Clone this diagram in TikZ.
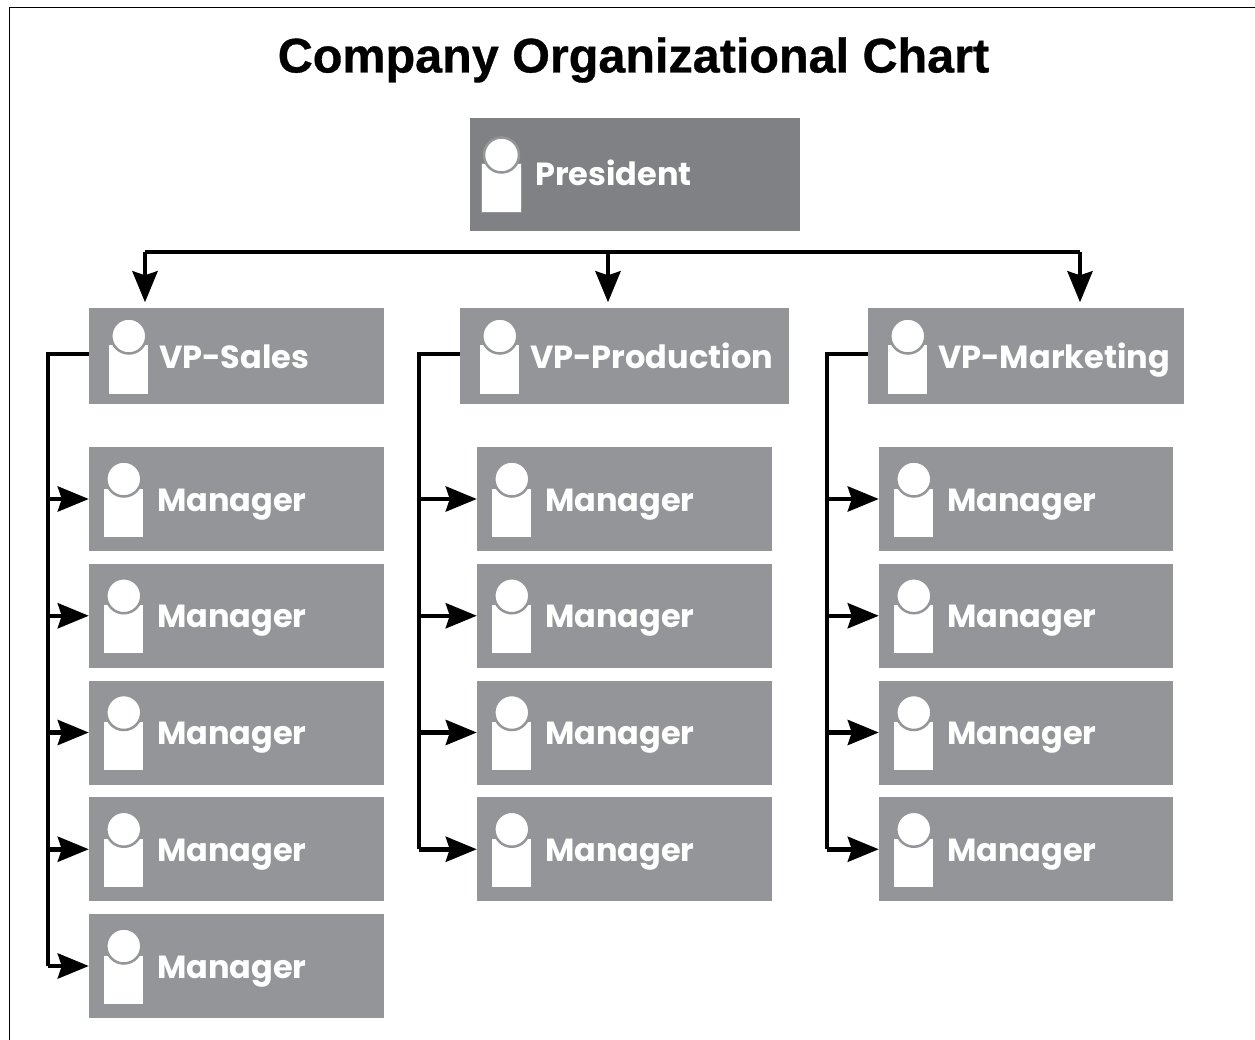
\documentclass[tikz,border=0pt]{standalone}
\usepackage{fontspec}
\usetikzlibrary{arrows.meta}
\setmainfont{Liberation Sans}[BoldFeatures={FakeBold=0.7}]
\newfontfamily\boxfont{Poppins}[FontFace={b}{n}{Font=Poppins Bold}]
\definecolor{darkbox}{HTML}{808184}
\definecolor{lightbox}{HTML}{939598}
\tikzset{
	person/.pic={
		\draw[fill=white,draw=lightbox,line width=1pt] (-20,9) rectangle (20,58);
		\draw[fill=white,draw=#1,line width=2.5pt] (0,0) circle (17.5pt);
	},
	orgbox/.style={fill=lightbox,minimum width=295pt,minimum height=104pt,inner sep=0pt},
	boxlabel/.style={anchor=base west,inner sep=0pt,text=white,font=\boxfont\bfseries\fontsize{32pt}{32pt}\selectfont},
	link/.style={line width=4.5pt,-{Stealth[length=31pt,width=25pt,inset=4pt]}},
	trunk/.style={line width=4.5pt,line join=miter}
}
\begin{document}
\begin{tikzpicture}[x=1pt,y=-1pt,node distance=116.75pt]
	\useasboundingbox (0,0) rectangle (1255,1040);
	\draw[line width=1.6pt] (9.5,1040) -- (9.5,7.5) -- (1255,7.5);
	\node[font=\bfseries\fontsize{48.5pt}{48.5pt}\selectfont] (title) at (633.5,60) {Company Organizational Chart};

	% top row
	\node[orgbox,fill=darkbox,minimum width=330pt,minimum height=113pt] (president) at (635,174.5) {};
	\node[orgbox,minimum height=96pt] (vpSales) at (236.5,356) {};
	\node[orgbox,minimum width=329pt,minimum height=96pt] (vpProd) at (624.5,356) {};
	\node[orgbox,minimum width=316pt,minimum height=96pt] (vpMark) at (1026,356) {};

	% managers
	\node[orgbox] (mS1) at (236.5,499) {};
	\node[orgbox,below of=mS1] (mS2) {};
	\node[orgbox,below of=mS2] (mS3) {};
	\node[orgbox,below of=mS3] (mS4) {};
	\node[orgbox,below of=mS4] (mS5) {};
	\node[orgbox] (mP1) at (624.5,499) {};
	\node[orgbox,below of=mP1] (mP2) {};
	\node[orgbox,below of=mP2] (mP3) {};
	\node[orgbox,below of=mP3] (mP4) {};
	\node[orgbox,minimum width=294pt] (mM1) at (1026,499) {};
	\node[orgbox,minimum width=294pt,below of=mM1] (mM2) {};
	\node[orgbox,minimum width=294pt,below of=mM2] (mM3) {};
	\node[orgbox,minimum width=294pt,below of=mM3] (mM4) {};

	% icons and labels
	\pic at (501.5,155) {person=lightbox};
	\node[boxlabel] (tP) at (535,186) {President};
	\foreach \b/\t in {vpSales/VP-Sales,vpProd/VP-Production,vpMark/VP-Marketing}{
		\pic at ([xshift=40pt,yshift=20pt]\b.west) {person=lightbox};
		\node[boxlabel] (t\b) at ([xshift=70pt,yshift=-12pt]\b.west) {\t};
	}
	\foreach \b in {mS1,mS2,mS3,mS4,mS5,mP1,mP2,mP3,mP4,mM1,mM2,mM3,mM4}{
		\pic at ([xshift=35pt,yshift=20pt]\b.west) {person=lightbox};
		\node[boxlabel] (t\b) at ([xshift=68pt,yshift=-12pt]\b.west) {Manager};
	}

	% connectors
	\coordinate (busS) at (145,252);
	\coordinate (busP) at (608,252);
	\coordinate (busM) at (1080,252);
	\draw[trunk] (busS) -- (busM);
	\draw[link] (busS) -- ([yshift=5.5pt]busS |- vpSales.north);
	\draw[link] (busP) -- ([yshift=5.5pt]busP |- vpProd.north);
	\draw[link] (busM) -- ([yshift=5.5pt]busM |- vpMark.north);

	\coordinate (trS) at (48,354);
	\coordinate (trP) at (419,354);
	\coordinate (trM) at (827,354);
	\draw[trunk] (vpSales.west |- trS) -- (trS) -- (trS |- mS5.west);
	\draw[trunk] (vpProd.west |- trP) -- (trP) -- (trP |- mP4.west);
	\draw[trunk] (vpMark.west |- trM) -- (trM) -- (trM |- mM4.west);
	\foreach \m in {mS1,mS2,mS3,mS4,mS5}
		\draw[link] (trS |- \m.west) -- (\m.west);
	\foreach \m in {mP1,mP2,mP3,mP4}
		\draw[link] (trP |- \m.west) -- (\m.west);
	\foreach \m in {mM1,mM2,mM3,mM4}
		\draw[link] (trM |- \m.west) -- (\m.west);
\end{tikzpicture}
\end{document}
